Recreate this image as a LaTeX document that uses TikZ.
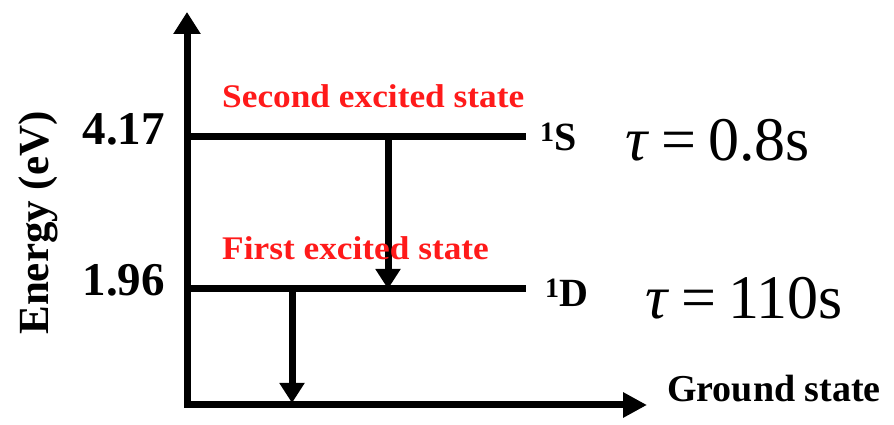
\documentclass[tikz,border=0pt]{standalone}
\usepackage{fontspec}
\setmainfont{Liberation Serif}
\usetikzlibrary{arrows.meta, positioning}
\definecolor{ink}{HTML}{000000}
\definecolor{hot}{HTML}{FF1A1A}
\tikzset{
  axis/.style  ={line width=7pt, draw=ink, line join=miter,
                 {Triangle[length=22pt,width=26pt]}-{Triangle[length=24pt,width=24pt]}},
  level/.style ={line width=7pt, draw=ink},
  decay/.style ={line width=7pt, draw=ink, -{Triangle[length=20pt,width=24pt]}},
  statelbl/.style={font=\fontsize{33}{33}\selectfont\bfseries, text=hot,
                 anchor=west, inner sep=0pt, xscale=1.07},
  value/.style ={font=\fontsize{47}{47}\selectfont\bfseries, inner sep=0pt},
  term/.style  ={font=\fontsize{40}{40}\selectfont\bfseries, inner sep=0pt, anchor=west},
  life/.style  ={font=\fontsize{62}{62}\selectfont, inner sep=0pt, anchor=west}
}

\begin{document}
\begin{tikzpicture}[x=1pt, y=1pt]
  \useasboundingbox (0,0) rectangle (894,425);

  % axes
  \coordinate (O)    at (187,20);
  \coordinate (ytop) at (187,413);
  \coordinate (xend) at (647,20);
  \draw[axis] (ytop) -- (O) -- (xend);

  % levels
  \coordinate (Sa) at (187,288);
  \coordinate (Sb) at (526,288);
  \coordinate (Da) at (187,136);
  \coordinate (Db) at (526,136);
  \draw[level] (Sa) -- (Sb);
  \draw[level] (Da) -- (Db);

  % decays
  \coordinate (s1) at (388,288);
  \coordinate (d1) at (388,136);
  \coordinate (d2) at (292,136);
  \coordinate (g2) at (292,22);
  \draw[decay] (s1) -- (d1);
  \draw[decay] (d2) -- (g2);

  % labels
  \node[value, left=22pt of Sa, yshift=8pt] (eS) {4.17};
  \node[value, left=22pt of Da, yshift=9pt] (eD) {1.96};
  \node[value, rotate=90, font=\fontsize{43}{43}\selectfont\bfseries] (elabel) at (38,202) {Energy (eV)};
  \node[statelbl] (second) at (222,329) {Second excited state};
  \node[statelbl] (first)  at (222,177) {First excited state};
  \node[term, right=14pt of Sb] (S) {\textsuperscript{1}S};
  \node[term, right=19pt of Db, yshift=-4pt] (D) {\textsuperscript{1}D};
  \node[life] (tS) at (625,285) {\textit{τ}\hspace{12pt}=\hspace{12pt}0.8s};
  \node[life] (tD) at (645,127) {\textit{τ}\hspace{12pt}=\hspace{12pt}110s};
  \node[term, font=\fontsize{38}{38}\selectfont\bfseries] (ground) at (667,36) {Ground state};
\end{tikzpicture}
\end{document}
